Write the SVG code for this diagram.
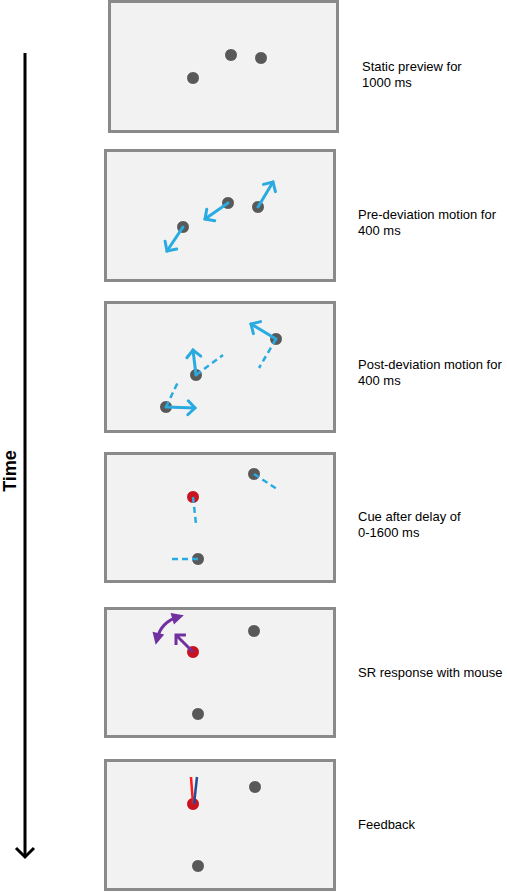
<svg xmlns="http://www.w3.org/2000/svg" width="507" height="892" viewBox="0 0 507 892">
<defs>
<style>
.panel{fill:#f2f2f2;stroke:#8a8a8a;stroke-width:3}
.dot{fill:#595959;stroke:#ffffff;stroke-width:1}
.red{fill:#c8141e;stroke:#ffffff;stroke-width:1}
.blue{stroke:#29abe2;stroke-width:3;fill:none;stroke-linecap:round}
.dash{stroke:#29abe2;stroke-width:2.5;fill:none;stroke-dasharray:6 4}
.purple{stroke:#7030a0;stroke-width:3;fill:none}
.lbl{font-family:"Liberation Sans",Arial,sans-serif;font-size:13px;fill:#000}
</style>
<marker id="chevB" markerUnits="userSpaceOnUse" markerWidth="20" markerHeight="20" refX="10" refY="10" viewBox="0 0 20 20" orient="auto">
<polyline points="3,3 10,10 3,17" fill="none" stroke="#29abe2" stroke-width="3" stroke-linecap="round"/>
</marker>
<marker id="chevP" markerUnits="userSpaceOnUse" markerWidth="20" markerHeight="20" refX="10" refY="10" viewBox="0 0 20 20" orient="auto">
<polyline points="3,3 10,10 3,17" fill="none" stroke="#7030a0" stroke-width="3"/>
</marker>
<marker id="triP" markerUnits="userSpaceOnUse" markerWidth="14" markerHeight="14" refX="7" refY="7" viewBox="0 0 14 14" orient="auto-start-reverse">
<polygon points="1,1 13,7 1,13" fill="#7030a0"/>
</marker>
<marker id="timeHead" markerUnits="userSpaceOnUse" markerWidth="24" markerHeight="24" refX="12" refY="12" viewBox="0 0 24 24" orient="auto">
<polyline points="3,3 12,12 3,21" fill="none" stroke="#000" stroke-width="3"/>
</marker>
</defs>

<g id="panel1">
<rect class="panel" x="109.5" y="1.5" width="228" height="130"/>
<circle class="dot" cx="231" cy="55" r="6.5"/>
<circle class="dot" cx="261" cy="58" r="6.5"/>
<circle class="dot" cx="193" cy="78" r="6.5"/>
<text class="lbl" x="362" y="71">Static preview for</text>
<text class="lbl" x="362" y="87">1000 ms</text>
</g>

<g id="panel2">
<rect class="panel" x="105.5" y="150.5" width="229" height="130"/>
<circle class="dot" cx="228" cy="203" r="6.5"/>
<circle class="dot" cx="258" cy="207" r="6.5"/>
<circle class="dot" cx="183" cy="227" r="6.5"/>
<text class="lbl" x="358" y="219">Pre-deviation motion for</text>
<text class="lbl" x="358" y="235">400 ms</text>
</g>

<g id="panel3">
<rect class="panel" x="105.5" y="302.5" width="229" height="129"/>
<circle class="dot" cx="276" cy="339" r="6.5"/>
<circle class="dot" cx="196" cy="375" r="6.5"/>
<circle class="dot" cx="166" cy="407" r="6.5"/>
<text class="lbl" x="358" y="369">Post-deviation motion for</text>
<text class="lbl" x="358" y="385">400 ms</text>
</g>

<g id="panel4">
<rect class="panel" x="105.5" y="453.5" width="229" height="128"/>
<circle class="dot" cx="254" cy="474" r="6.5"/>
<circle class="red" cx="193" cy="497" r="6.5"/>
<circle class="dot" cx="198" cy="559" r="6.5"/>
<text class="lbl" x="358" y="521">Cue after delay of</text>
<text class="lbl" x="358" y="537">0-1600 ms</text>
</g>

<g id="panel5">
<rect class="panel" x="105.5" y="608.5" width="229" height="128"/>
<circle class="dot" cx="254" cy="631" r="6.5"/>
<circle class="red" cx="193" cy="652" r="6.5"/>
<circle class="dot" cx="198" cy="714" r="6.5"/>
<text class="lbl" x="358" y="677">SR response with mouse</text>
</g>

<g id="panel6">
<rect class="panel" x="105.5" y="760.5" width="229" height="129"/>
<circle class="dot" cx="255" cy="787" r="6.5"/>
<circle class="red" cx="193" cy="804" r="6.5"/>
<circle class="dot" cx="198" cy="866" r="6.5"/>
<text class="lbl" x="358" y="829">Feedback</text>
</g>

<g id="connectors">
<!-- panel 2 motion arrows -->
<line class="blue" x1="258" y1="207" x2="273" y2="182" marker-end="url(#chevB)"/>
<line class="blue" x1="228" y1="203" x2="205" y2="219" marker-end="url(#chevB)"/>
<line class="blue" x1="183" y1="227" x2="167" y2="251" marker-end="url(#chevB)"/>
<!-- panel 3 -->
<line class="dash" x1="276" y1="339" x2="259" y2="368"/>
<line class="dash" x1="196" y1="375" x2="223" y2="355"/>
<line class="dash" x1="166" y1="407" x2="178" y2="382"/>
<line class="blue" x1="276" y1="339" x2="251" y2="324" marker-end="url(#chevB)"/>
<line class="blue" x1="196" y1="375" x2="193" y2="350" marker-end="url(#chevB)"/>
<line class="blue" x1="166" y1="407" x2="195" y2="408" marker-end="url(#chevB)"/>
<!-- panel 4 -->
<line class="dash" x1="254" y1="474" x2="277" y2="489"/>
<line class="dash" x1="193" y1="497" x2="196" y2="524"/>
<line class="dash" x1="198" y1="559" x2="170" y2="559"/>
<!-- panel 5 -->
<line class="purple" x1="193" y1="652" x2="176" y2="635" marker-end="url(#chevP)"/>
<path class="purple" d="M157,639 Q161,622 178,617" marker-start="url(#triP)" marker-end="url(#triP)"/>
<!-- panel 6 -->
<line x1="193" y1="804" x2="191" y2="777" stroke="#ff1a1a" stroke-width="2.5"/>
<line x1="194" y1="804" x2="197" y2="777" stroke="#1f4e99" stroke-width="2.5"/>
<!-- time axis -->
<line x1="25" y1="53" x2="25" y2="857" stroke="#000" stroke-width="3" marker-end="url(#timeHead)"/>
</g>
<text x="16" y="471" transform="rotate(-90 16 471)" text-anchor="middle" font-family="'Liberation Sans',Arial,sans-serif" font-size="18" font-weight="bold">Time</text>
</svg>
